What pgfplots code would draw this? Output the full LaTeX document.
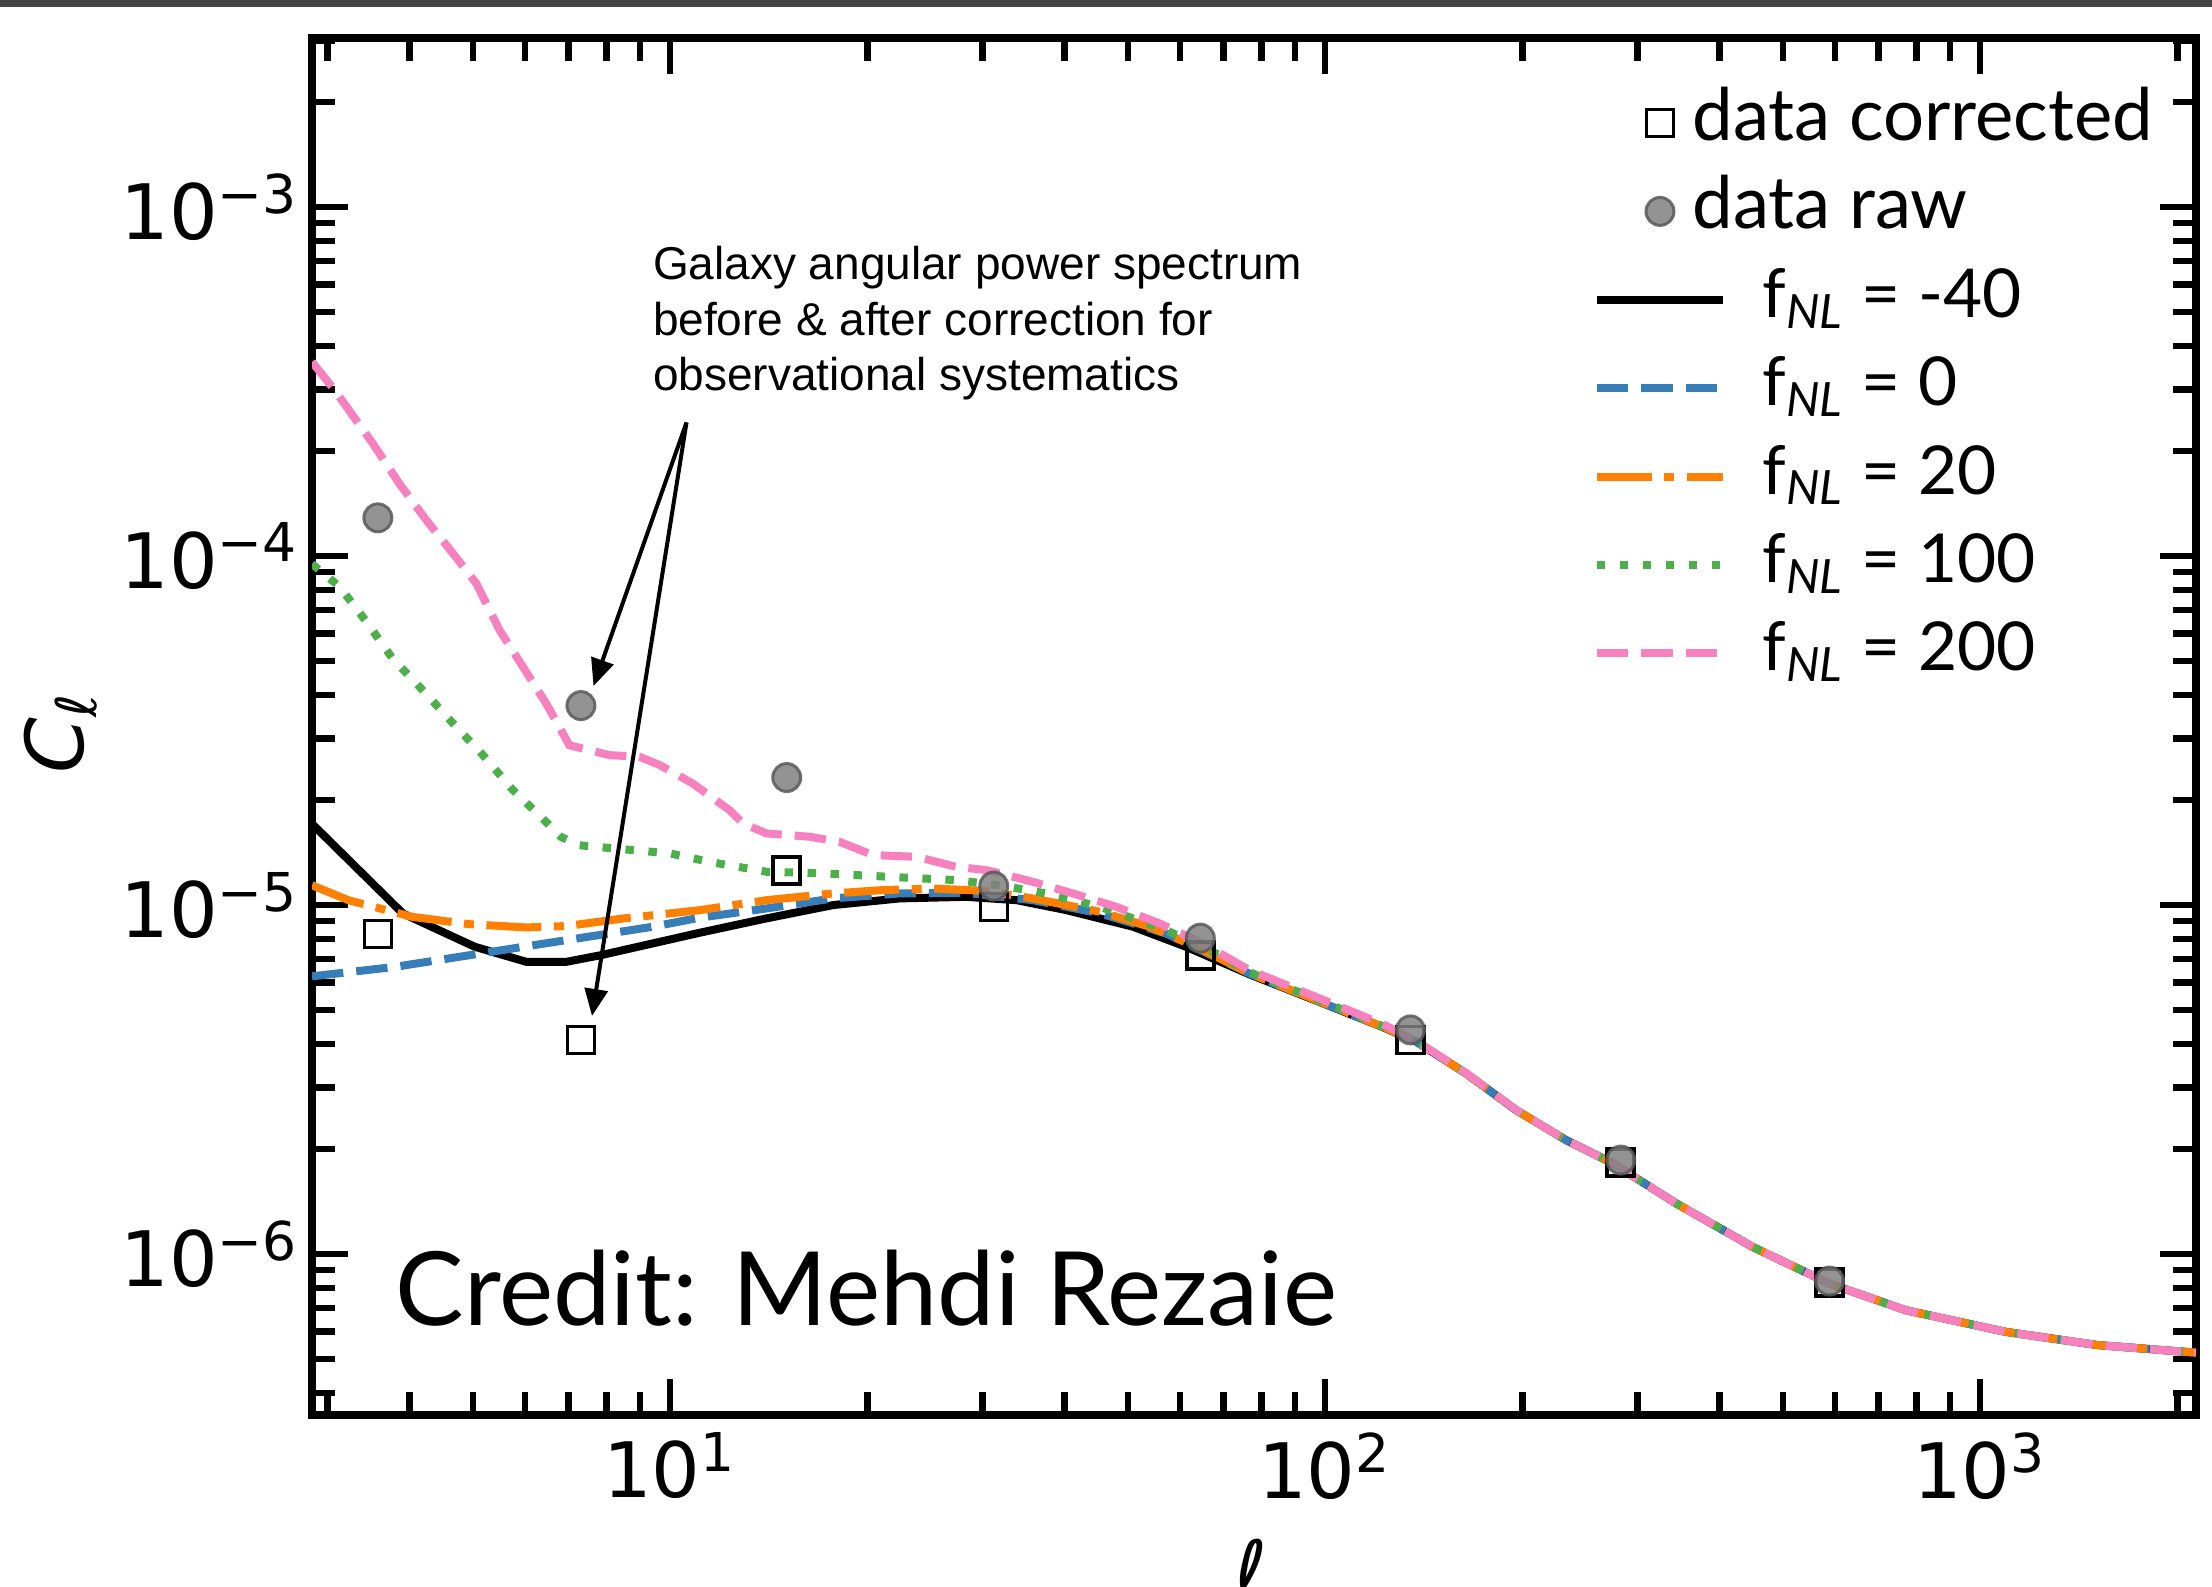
\documentclass[border=0pt]{standalone}
\usepackage{fontspec}
\usepackage{pgfplots}
\usepackage{pgfplotstable}
\pgfplotsset{compat=1.18}
\usetikzlibrary{arrows.meta}

\newfontfamily\gill{Lato}
\newfontfamily\dejavu{DejaVu Sans}
\newfontfamily\arial{Liberation Sans}

\definecolor{cbblue}{HTML}{377EB8}
\definecolor{cborange}{HTML}{FF7F00}
\definecolor{cbgreen}{HTML}{4DAF4A}
\definecolor{cbpink}{HTML}{F781BF}
\definecolor{topbar}{HTML}{454545}

\pgfplotsset{
  linelegend/.style={legend image code/.code={\draw[##1] (0pt,0pt) -- (25.2pt,0pt);}},
  marklegend/.style={legend image code/.code={\draw[##1] plot coordinates {(12.6pt,0pt)};}},
}

% binned measurements
\pgfplotstableread{
l      cl
3.58   8.26e-6
7.31   4.11e-6
15.07  1.256e-5
31.2   9.86e-6
64.5   7.18e-6
135    4.11e-6
282.7  1.83e-6
589    8.30e-7
}\tcorr
\pgfplotstableread{
l      cl
3.58   1.287e-4
7.31   3.73e-5
15.07  2.32e-5
31.2   1.134e-5
64.5   8.04e-6
135    4.39e-6
282.7  1.86e-6
589    8.37e-7
}\traw

% models
\pgfplotstableread{
l      cl
2.84   1.71e-5
3.91   9.46e-6
5.03   7.60e-6
6.03   6.88e-6
6.95   6.88e-6
7.85   7.19e-6
11.09  8.33e-6
14.03  9.16e-6
17.73  1.00e-5
22.4   1.045e-5
28.3   1.056e-5
33.8   1.033e-5
40.3   9.67e-6
50.9   8.67e-6
61.4   7.59e-6
76.7   6.33e-6
97.0   5.32e-6
122.5  4.47e-6
137.8  4.06e-6
164.3  3.29e-6
195.8  2.585e-6
233.5  2.12e-6
275.0  1.82e-6
343.6  1.397e-6
449.4  1.049e-6
588.4  8.24e-7
769.6  6.91e-7
1093   5.99e-7
1509   5.49e-7
2136   5.22e-7
}\tmforty
\pgfplotstableread{
l      cl
2.84   6.25e-6
3.794  6.65e-6
5.14   7.27e-6
6.95   7.94e-6
9.41   8.67e-6
11.09  9.20e-6
14.03  9.78e-6
17.73  1.045e-5
22.4   1.08e-5
28.3   1.084e-5
35.8   1.033e-5
45.3   9.47e-6
57.2   8.29e-6
76.7   6.36e-6
97.0   5.33e-6
122.5  4.47e-6
137.8  4.06e-6
164.3  3.29e-6
195.8  2.585e-6
233.5  2.12e-6
275.0  1.82e-6
343.6  1.397e-6
449.4  1.049e-6
588.4  8.24e-7
769.6  6.91e-7
1093   5.99e-7
1509   5.49e-7
2136   5.22e-7
}\tzero
\pgfplotstableread{
l      cl
2.84   1.14e-5
3.228  1.033e-5
4.03   9.26e-6
4.93   8.82e-6
6.03   8.63e-6
6.95   8.71e-6
8.5    9.16e-6
11.09  9.67e-6
14.03  1.033e-5
17.73  1.08e-5
21.1   1.104e-5
25.2   1.116e-5
30.0   1.099e-5
35.8   1.045e-5
45.3   9.57e-6
53.95  8.67e-6
64.3   7.52e-6
76.7   6.37e-6
97.0   5.34e-6
122.5  4.48e-6
137.8  4.06e-6
164.3  3.29e-6
195.8  2.585e-6
233.5  2.12e-6
275.0  1.82e-6
343.6  1.397e-6
449.4  1.049e-6
588.4  8.24e-7
769.6  6.91e-7
1093   5.99e-7
1509   5.49e-7
2136   5.22e-7
}\ttwenty
\pgfplotstableread{
l      cl
2.84   9.49e-5
3.13   8.17e-5
3.44   6.48e-5
3.77   5.09e-5
4.19   4.13e-5
4.66   3.32e-5
5.18   2.69e-5
5.75   2.14e-5
6.39   1.77e-5
6.81   1.57e-5
7.24   1.485e-5
10.0   1.406e-5
11.49  1.33e-5
14.03  1.246e-5
17.12  1.233e-5
21.6   1.205e-5
27.35  1.179e-5
31.8   1.14e-5
37.5   1.08e-5
45.3   9.89e-6
57.2   8.48e-6
69.0   7.19e-6
76.7   6.42e-6
97.0   5.38e-6
122.5  4.50e-6
137.8  4.06e-6
164.3  3.29e-6
195.8  2.585e-6
233.5  2.12e-6
275.0  1.82e-6
343.6  1.397e-6
449.4  1.049e-6
588.4  8.24e-7
769.6  6.91e-7
1093   5.99e-7
1509   5.49e-7
2136   5.22e-7
}\thundred
\pgfplotstableread{
l      cl
2.84   3.60e-4
3.074  2.99e-4
3.518  2.10e-4
3.864  1.61e-4
4.245  1.267e-4
4.66   1.018e-4
5.06   8.35e-5
5.49   6.14e-5
5.96   4.82e-5
6.47   3.78e-5
7.02   2.87e-5
8.08   2.69e-5
8.98   2.66e-5
9.64   2.52e-5
10.83  2.23e-5
12.33  1.87e-5
12.92  1.714e-5
14.03  1.605e-5
16.33  1.57e-5
18.15  1.518e-5
20.4   1.391e-5
23.8   1.375e-5
27.35  1.287e-5
30.4   1.26e-5
35.8   1.166e-5
41.2   1.08e-5
48.0   9.89e-6
55.9   8.86e-6
64.3   7.85e-6
76.7   6.51e-6
97.0   5.45e-6
122.5  4.56e-6
137.8  4.08e-6
164.3  3.30e-6
195.8  2.59e-6
233.5  2.12e-6
275.0  1.82e-6
343.6  1.397e-6
449.4  1.049e-6
588.4  8.24e-7
769.6  6.91e-7
1093   5.99e-7
1509   5.49e-7
2136   5.22e-7
}\ttwohundred

\begin{document}
\begin{tikzpicture}
\useasboundingbox (-62.4pt,-34.4pt) rectangle (380pt,283pt);
\fill[topbar] (-62.4pt,281.6pt) rectangle (380pt,283pt);
\begin{axis}[
  scale only axis, width=376.8pt, height=275.4pt,
  xmode=log, ymode=log,
  xmin=2.84, xmax=2136, ymin=3.46e-7, ymax=3.05e-3,
  axis line style={line width=1.6pt},
  tick style={line width=1.3pt, black},
  major tick length=7.2pt, minor tick length=4.6pt,
  tick align=inside, xtick pos=both, ytick pos=both,
  xtick={10,100,1000},
  xticklabels={10\textsuperscript{1},10\textsuperscript{2},10\textsuperscript{3}},
  ytick={1e-6,1e-5,1e-4,1e-3},
  yticklabels={10\textsuperscript{−6},10\textsuperscript{−5},10\textsuperscript{−4},10\textsuperscript{−3}},
  minor xtick={3,4,5,6,7,8,9,20,30,40,50,60,70,80,90,200,300,400,500,600,700,800,900,2000},
  minor ytick={4e-7,5e-7,6e-7,7e-7,8e-7,9e-7,2e-6,3e-6,4e-6,5e-6,6e-6,7e-6,8e-6,9e-6,
    2e-5,3e-5,4e-5,5e-5,6e-5,7e-5,8e-5,9e-5,2e-4,3e-4,4e-4,5e-4,6e-4,7e-4,8e-4,9e-4,2e-3,3e-3},
  tick label style={font=\dejavu\fontsize{15.3}{17}\selectfont},
  yticklabel style={xshift=1pt},
  xlabel={\itshape ℓ},
  ylabel={\itshape C\textsubscript{ℓ}},
  label style={font=\dejavu\fontsize{16}{18}\selectfont},
  xlabel style={at={(axis description cs:0.4984,-0.0893)}, anchor=north, inner sep=0pt},
  ylabel style={at={(axis description cs:-0.1332,0.4953)}, anchor=center, inner sep=0pt},
  legend cell align=left,
  legend style={draw=none, fill=none, inner sep=0pt,
    at={(axis description cs:0.6794,0.9626)}, anchor=north west,
    row sep=4.68pt, column sep=7.1pt,
    nodes={inner sep=0pt, text height=10pt, text depth=3pt},
    font=\gill\fontsize{13.5}{15}\selectfont},
]
\addlegendimage{only marks, mark=square, mark size=2.7pt,
  mark options={draw=black, fill=white, line width=0.7pt}, marklegend}
\addlegendentry{\hspace*{-14pt}\fontsize{14.5}{15}\selectfont data corrected}
\addlegendimage{only marks, mark=*, mark size=2.8pt,
  mark options={fill=gray, draw=black!65, line width=0.6pt, opacity=0.85}, marklegend}
\addlegendentry{\hspace*{-14pt}\fontsize{14.5}{15}\selectfont data raw}
\addlegendimage{linelegend, black, line width=1.6pt}
\addlegendentry{f\textsubscript{\itshape NL} = -40}
\addlegendimage{linelegend, cbblue, line width=1.6pt, dash pattern=on 6.3pt off 2.6pt}
\addlegendentry{f\textsubscript{\itshape NL} = 0}
\addlegendimage{linelegend, cborange, line width=1.6pt, dash pattern=on 11pt off 2.5pt on 2pt off 2.5pt}
\addlegendentry{f\textsubscript{\itshape NL} = 20}
\addlegendimage{linelegend, cbgreen, line width=1.6pt, dash pattern=on 1.7pt off 2.9pt}
\addlegendentry{f\textsubscript{\itshape NL} = 100}
\addlegendimage{linelegend, cbpink, line width=1.6pt, dash pattern=on 6.3pt off 2.6pt}
\addlegendentry{f\textsubscript{\itshape NL} = 200}

\addplot[forget plot, black, line width=1.6pt] table[x=l, y=cl] {\tmforty};
\addplot[forget plot, cbblue, line width=1.6pt, dash pattern=on 6.3pt off 2.6pt] table[x=l, y=cl] {\tzero};
\addplot[forget plot, cborange, line width=1.6pt, dash pattern=on 11pt off 2.5pt on 2pt off 2.5pt] table[x=l, y=cl] {\ttwenty};
\addplot[forget plot, cbgreen, line width=1.6pt, dash pattern=on 1.7pt off 2.9pt] table[x=l, y=cl] {\thundred};
\addplot[forget plot, cbpink, line width=1.6pt, dash pattern=on 6.3pt off 2.6pt] table[x=l, y=cl] {\ttwohundred};
\addplot[forget plot, only marks, mark=square, mark size=2.7pt,
  mark options={draw=black, fill=white, line width=0.7pt}] table[x=l, y=cl] {\tcorr};
\addplot[forget plot, only marks, mark=*, mark size=2.8pt,
  mark options={fill=gray, draw=black!65, line width=0.6pt, opacity=0.85}] table[x=l, y=cl] {\traw};
\end{axis}

\draw[line width=0.8pt, -{Triangle[length=5.4pt,width=4.6pt]}] (74.9pt,198.5pt) -- (56.3pt,145.8pt);
\draw[line width=0.8pt, -{Triangle[length=5.4pt,width=4.6pt]}] (74.9pt,198.5pt) -- (56pt,79.8pt);
\begin{scope}[every node/.style={anchor=base west, inner sep=0pt, font=\arial\fontsize{9.2}{11}\selectfont}]
\node at (68pt,227pt) {Galaxy angular power spectrum};
\node at (68pt,215.9pt) {before \& after correction for};
\node at (68pt,204.8pt) {observational systematics};
\end{scope}
\node[anchor=base west, inner sep=0pt, font=\gill\fontsize{20.5}{24}\selectfont] at (16.6pt,17.8pt) {Credit: Mehdi Rezaie};
\end{tikzpicture}
\end{document}
